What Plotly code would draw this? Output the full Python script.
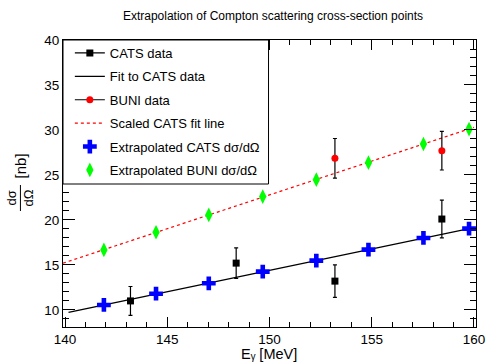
import plotly.graph_objects as go

# Measured Compton cross sections (nb) vs photon energy (MeV)
cats_e = [143.2, 148.37, 153.2, 158.43]
cats_xs = [11.0, 15.2, 13.2, 20.1]
cats_err = [1.6, 1.7, 1.8, 2.1]

buni_e = [153.2, 158.43]
buni_xs = [26.85, 27.7]
buni_err = [2.2, 2.15]

# Linear fit to CATS data and scale factor to BUNI
fit_slope = 0.4748
fit_intercept = -56.82
fit_range = [140.17, 160.0]
scale_factor = 1.582
scaled_range = [139.9, 160.0]

# Extrapolated cross sections at the tagger energies
extrap_e = [141.9, 144.45, 147.03, 149.67, 152.29, 154.84, 157.53, 159.76]
extrap_cats = [10.55, 11.8, 12.96, 14.26, 15.48, 16.7, 18.0, 19.03]
extrap_buni = [16.67, 18.63, 20.56, 22.6, 24.48, 26.37, 28.44, 30.1]

FONT = "Liberation Sans, Arial, Helvetica, sans-serif"
W, H = 494, 363
ML, MR, MT, MB = 63, 9, 40, 36
PW, PH = W - ML - MR, H - MT - MB


def px_to_paper(x, y):
    return (x - ML) / PW, (H - MB - y) / PH


fit_y = [fit_intercept + fit_slope * e for e in fit_range]
scaled_y = [scale_factor * (fit_intercept + fit_slope * e) for e in scaled_range]

fig = go.Figure()

# Fit lines
fig.add_trace(go.Scatter(x=fit_range, y=fit_y, mode="lines",
                         line=dict(color="black", width=1.3),
                         name="Fit to CATS data", legendrank=2, legendgroup="b"))
fig.add_trace(go.Scatter(x=scaled_range, y=scaled_y, mode="lines",
                         line=dict(color="#ff0000", width=1.2, dash="3px,3px"),
                         name="Scaled CATS fit line", legendrank=4, legendgroup="d"))

# Data with error bars
err_style = dict(type="data", visible=True, color="black", thickness=1.2, width=2)
fig.add_trace(go.Scatter(x=cats_e, y=cats_xs, mode="markers",
                         marker=dict(symbol="square", size=7, color="black"),
                         error_y=dict(array=cats_err, **err_style),
                         showlegend=False))
fig.add_trace(go.Scatter(x=buni_e, y=buni_xs, mode="markers",
                         marker=dict(symbol="circle", size=7, color="#ff0000"),
                         error_y=dict(array=buni_err, **err_style),
                         showlegend=False))

# Extrapolated points
fig.add_trace(go.Scatter(x=extrap_e, y=extrap_cats, mode="markers",
                         marker=dict(symbol="cross", size=11.5, color="#0000ff", line=dict(width=0)),
                         name="Extrapolated CATS dσ/dΩ", legendrank=5, legendgroup="e"))
fig.add_trace(go.Scatter(x=extrap_e, y=extrap_buni, mode="markers",
                         marker=dict(symbol="diamond-tall", size=10.5, color="#00ff00", line=dict(width=0)),
                         name="Extrapolated BUNI dσ/dΩ", legendrank=6, legendgroup="f"))

# Legend entries for the data series (line + marker)
fig.add_trace(go.Scatter(x=[None], y=[None], mode="lines+markers",
                         line=dict(color="black", width=1.2),
                         marker=dict(symbol="square", size=7, color="black"),
                         name="CATS data", legendrank=1, legendgroup="a"))
fig.add_trace(go.Scatter(x=[None], y=[None], mode="lines+markers",
                         line=dict(color="black", width=1.2),
                         marker=dict(symbol="circle", size=7, color="#ff0000"),
                         name="BUNI data", legendrank=3, legendgroup="c"))

axis_common = dict(
    showline=True, linecolor="black", linewidth=1, mirror="ticks",
    ticks="inside", tickcolor="black", tickwidth=1,
    showgrid=False, zeroline=False,
    tickfont=dict(family=FONT, size=13.5, color="black"),
    ticklabeloverflow="allow",
)

fig.update_xaxes(range=[139.9, 160.1], tickvals=[140, 145, 150, 155, 160], ticklen=10,
                 minor=dict(dtick=1, ticks="inside", ticklen=5, tickcolor="black", showgrid=False),
                 **axis_common)
fig.update_yaxes(range=[8.1, 40], tickvals=[10, 15, 20, 25, 30, 35, 40], ticklen=12,
                 minor=dict(dtick=1, ticks="inside", ticklen=6, tickcolor="black", showgrid=False),
                 **axis_common)

# Legend frame
lx0, ly0 = px_to_paper(63, 184)
lx1, ly1 = px_to_paper(273, 40)
shapes = [dict(type="rect", xref="paper", yref="paper", x0=lx0, y0=ly0, x1=lx1, y1=ly1,
               line=dict(color="black", width=1), fillcolor="white", layer="above")]

# y-axis title as a fraction dσ/dΩ [nb]
fx0, fy0 = px_to_paper(19.5, 185)
fx1, fy1 = px_to_paper(19.5, 211)
shapes.append(dict(type="line", xref="paper", yref="paper", x0=fx0, y0=fy0, x1=fx1, y1=fy1,
                   line=dict(color="black", width=1)))

annotations = []
ax_, ay_ = px_to_paper(19.5, 198)
annotations.append(dict(text="dσ<br>dΩ", xref="paper", yref="paper", x=ax_, y=ay_,
                        textangle=-90, showarrow=False, xanchor="center", yanchor="middle",
                        font=dict(family=FONT, size=13, color="black")))
bx_, by_ = px_to_paper(19.5, 166)
annotations.append(dict(text="[nb]", xref="paper", yref="paper", x=bx_, y=by_,
                        textangle=-90, showarrow=False, xanchor="center", yanchor="middle",
                        font=dict(family=FONT, size=15, color="black")))
tx_, ty_ = px_to_paper(273, 354)
annotations.append(dict(text="Eᵧ [MeV]", xref="paper", yref="paper", x=tx_, y=ty_,
                        showarrow=False, xanchor="center", yanchor="middle",
                        font=dict(family=FONT, size=14.5, color="black")))

lgx, lgy = px_to_paper(70, 38)
fig.update_layout(
    width=W, height=H,
    margin=dict(l=ML, r=MR, t=MT, b=MB),
    paper_bgcolor="white", plot_bgcolor="white",
    title=dict(text="Extrapolation of Compton scattering cross-section points",
               x=273 / W, xanchor="center", y=1 - 16 / H, yanchor="middle",
               font=dict(family=FONT, size=12, color="black")),
    legend=dict(x=lgx, y=lgy, xanchor="left", yanchor="top",
                bgcolor="rgba(0,0,0,0)", borderwidth=0, tracegroupgap=3.5,
                font=dict(family=FONT, size=13, color="black")),
    shapes=shapes, annotations=annotations,
)

fig.write_html("out.html")
